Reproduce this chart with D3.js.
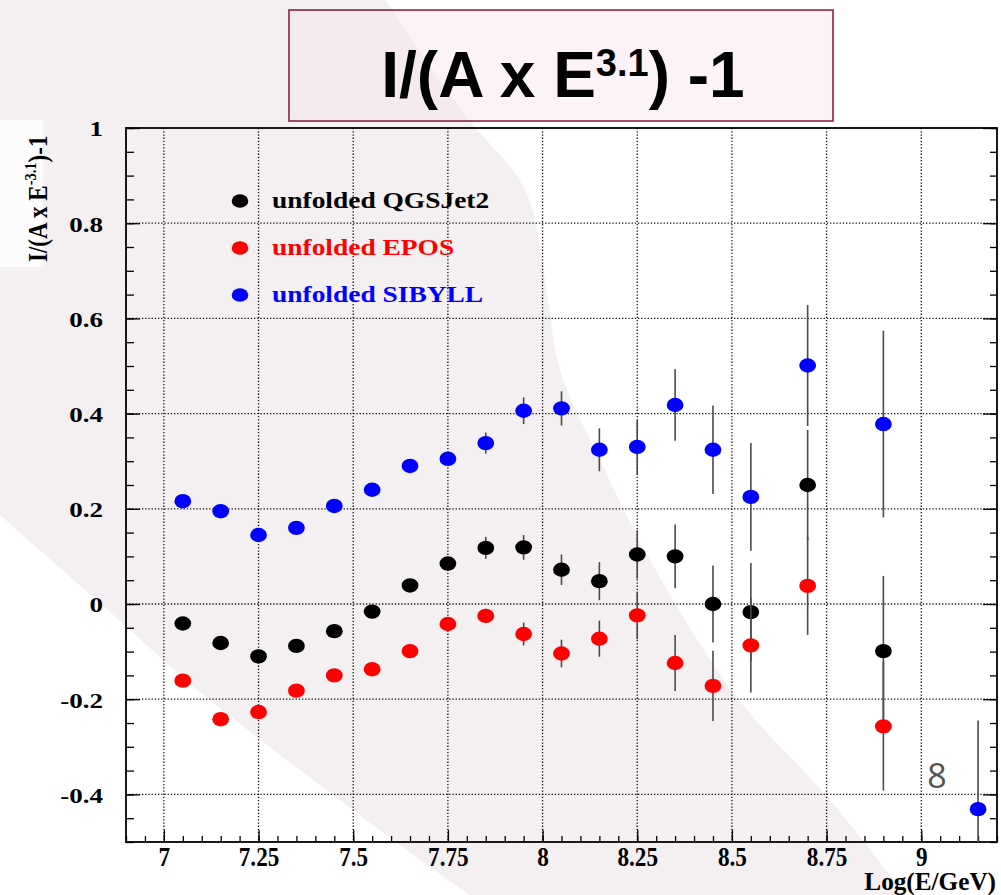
<!DOCTYPE html>
<html>
<head>
<meta charset="utf-8">
<script src="https://cdn.jsdelivr.net/npm/d3@7"></script>
<style>
  html, body { margin: 0; padding: 0; background: #ffffff; }
  svg { display: block; }
</style>
</head>
<body>
<svg id="chart" width="1001" height="895"></svg>
<script>
// Energy bins, log10(E/GeV)
const logE = [7.05, 7.15, 7.25, 7.35, 7.45, 7.55, 7.65, 7.75, 7.85, 7.95,
              8.05, 8.15, 8.25, 8.35, 8.45, 8.55, 8.70, 8.90, 9.15];

// Residuals I/(A x E^-3.1) - 1 and their uncertainties, per hadronic model
const qgsjet2    = [-0.041, -0.082, -0.110, -0.088, -0.057, -0.016, 0.039, 0.085, 0.118, 0.119,
                     0.072, 0.048, 0.104, 0.100, 0.000, -0.017, 0.250, -0.099];
const qgsjet2Err = [0.008, 0.008, 0.008, 0.008, 0.009, 0.010, 0.011, 0.013, 0.023, 0.026,
                    0.032, 0.040, 0.051, 0.067, 0.081, 0.103, 0.116, 0.158];

const epos       = [-0.161, -0.242, -0.227, -0.182, -0.150, -0.137, -0.099, -0.042, -0.025, -0.063,
                    -0.104, -0.073, -0.024, -0.124, -0.172, -0.087, 0.038, -0.257];
const eposErr    = [0.007, 0.007, 0.007, 0.007, 0.008, 0.009, 0.010, 0.012, 0.015, 0.024,
                    0.029, 0.038, 0.050, 0.059, 0.074, 0.099, 0.103, 0.135];

const sibyll     = [0.216, 0.195, 0.145, 0.160, 0.206, 0.240, 0.290, 0.305, 0.338, 0.406,
                    0.411, 0.324, 0.330, 0.418, 0.324, 0.225, 0.501, 0.378, -0.431];
const sibyllErr  = [0.007, 0.007, 0.007, 0.008, 0.008, 0.009, 0.010, 0.012, 0.022, 0.028,
                    0.036, 0.045, 0.057, 0.075, 0.093, 0.113, 0.127, 0.196, 0.186];

const seriesNames  = ["unfolded QGSJet2", "unfolded EPOS", "unfolded SIBYLL"];
const seriesColors = ["#000000", "#ff0000", "#0000ff"];

const xMajorTicks = [7, 7.25, 7.5, 7.75, 8, 8.25, 8.5, 8.75, 9];
const yMajorTicks = [-0.4, -0.2, 0, 0.2, 0.4, 0.6, 0.8, 1];

const W = 1001, H = 895;
const frame = { left: 126, right: 997, top: 128, bottom: 842 };

const svg = d3.select("#chart");

const x = d3.scaleLinear().domain([6.9, 9.2]).range([frame.left, frame.right]);
const y = d3.scaleLinear().domain([-0.5, 1]).range([frame.bottom, frame.top]);

const serif = "'Liberation Serif', 'Times New Roman', serif";
const sans = "'Liberation Sans', Arial, sans-serif";
const fmt = d => String(+d.toFixed(2));

// ---- slide background: white page with a pale sweeping band ----
svg.append("rect").attr("width", W).attr("height", H).attr("fill", "#ffffff");

const edge = d3.line().curve(d3.curveCatmullRom.alpha(0.5));
const upperEdge = [[385, 0], [465, 115], [525, 190], [545, 280], [560, 370], [600, 460],
                   [650, 560], [735, 695], [830, 800], [905, 895]];
const lowerEdge = [[470, 895], [400, 845], [300, 770], [200, 692], [100, 603], [0, 515]];
const bandPath = "M0,0L" + edge(upperEdge).slice(1) + edge(lowerEdge).replace(/^M/, "L") + "Z";
svg.append("path").attr("d", bandPath).attr("fill", "#f4eff0");

// label backing on the left margin
svg.append("rect").attr("x", 0).attr("y", 120).attr("width", 43).attr("height", 147)
  .attr("fill", "#fdfcfc");

// ---- title box ----
svg.append("rect")
  .attr("x", 289).attr("y", 10).attr("width", 544).attr("height", 111)
  .attr("fill", "rgba(245,226,236,0.42)")
  .attr("stroke", "#8c2242").attr("stroke-width", 1.6);

const title = svg.append("text")
  .attr("x", 563).attr("y", 97)
  .attr("text-anchor", "middle")
  .attr("font-family", sans).attr("font-weight", "bold")
  .attr("font-size", 64).attr("fill", "#000");
title.append("tspan").text("I/(A x E");
title.append("tspan").attr("font-size", 38).attr("dy", -21).text("3.1");
title.append("tspan").attr("dy", 21).text(") -1");

// ---- grid ----
const grid = svg.append("g").attr("stroke", "#111").attr("stroke-width", 1.3)
  .attr("stroke-dasharray", "1.3,1.9");
grid.selectAll("line.gx").data(xMajorTicks).join("line").attr("class", "gx")
  .attr("x1", d => x(d)).attr("x2", d => x(d))
  .attr("y1", frame.top).attr("y2", frame.bottom);
grid.selectAll("line.gy").data(yMajorTicks.filter(d => d < 1)).join("line").attr("class", "gy")
  .attr("y1", d => y(d)).attr("y2", d => y(d))
  .attr("x1", frame.left).attr("x2", frame.right);

// ---- axes (ticks point into the frame) ----
const xMinor = d3.range(138, 185).map(i => +(i * 0.05).toFixed(2));
const yMinor = d3.range(-10, 21).map(i => +(i * 0.05).toFixed(2));

function styleAxis(g) {
  g.select(".domain").remove();
  g.selectAll(".tick line").attr("stroke", "#000").attr("stroke-width", 1.3);
}

svg.append("g").attr("transform", `translate(0,${frame.bottom})`)
  .call(d3.axisBottom(x).tickValues(xMinor).tickSize(-6).tickFormat(""))
  .call(styleAxis);

const xAx = svg.append("g").attr("transform", `translate(0,${frame.bottom})`)
  .call(d3.axisBottom(x).tickValues(xMajorTicks).tickSize(-12).tickFormat(fmt))
  .call(styleAxis);
xAx.selectAll(".tick text")
  .attr("y", 24).attr("dy", 0)
  .attr("transform", "scale(0.86,1)")
  .attr("font-family", serif).attr("font-weight", "bold")
  .attr("font-size", 27).attr("fill", "#000");

svg.append("g").attr("transform", `translate(${frame.left},0)`)
  .call(d3.axisLeft(y).tickValues(yMinor).tickSize(-8).tickFormat(""))
  .call(styleAxis);

const yAx = svg.append("g").attr("transform", `translate(${frame.left},0)`)
  .call(d3.axisLeft(y).tickValues(yMajorTicks).tickSize(-14).tickFormat(fmt))
  .call(styleAxis);
yAx.selectAll(".tick text")
  .attr("x", 0).attr("dy", "0.36em")
  .attr("transform", "translate(-23,0) scale(1.23,1)")
  .attr("text-anchor", "end")
  .attr("font-family", serif).attr("font-weight", "bold")
  .attr("font-size", 22).attr("fill", "#000");

svg.append("g").attr("transform", `translate(${frame.right},0)`)
  .call(d3.axisRight(y).tickValues(yMinor).tickSize(-7).tickFormat(""))
  .call(styleAxis);
svg.append("g").attr("transform", `translate(${frame.right},0)`)
  .call(d3.axisRight(y).tickValues(yMajorTicks).tickSize(-14).tickFormat(""))
  .call(styleAxis);

// frame
svg.append("rect")
  .attr("x", frame.left).attr("y", frame.top)
  .attr("width", frame.right - frame.left).attr("height", frame.bottom - frame.top)
  .attr("fill", "none").attr("stroke", "#000").attr("stroke-width", 1.8);

// axis titles
svg.append("text")
  .attr("x", 0).attr("y", 0)
  .attr("text-anchor", "end")
  .attr("font-family", serif).attr("font-weight", "bold")
  .attr("font-size", 26).attr("fill", "#000")
  .attr("transform", "translate(996,890) scale(0.97,1)")
  .text("Log(E/GeV)");

const yTitle = svg.append("text")
  .attr("transform", "translate(47,262) rotate(-90) scale(1,1.2)")
  .attr("font-family", serif).attr("font-weight", "bold")
  .attr("font-size", 23).attr("fill", "#000");
yTitle.append("tspan").text("I/(A x E");
yTitle.append("tspan").attr("font-size", 14.5).attr("dy", -9).text("-3.1");
yTitle.append("tspan").attr("dy", 9).text(")-1");

// ---- data ----
svg.append("clipPath").attr("id", "plotClip")
  .append("rect")
  .attr("x", frame.left).attr("y", frame.top)
  .attr("width", frame.right - frame.left).attr("height", frame.bottom - frame.top);

const series = [
  { values: qgsjet2, errors: qgsjet2Err, color: seriesColors[0] },
  { values: epos,    errors: eposErr,    color: seriesColors[1] },
  { values: sibyll,  errors: sibyllErr,  color: seriesColors[2] }
];

const plot = svg.append("g").attr("clip-path", "url(#plotClip)");
series.forEach(s => {
  const pts = s.values.map((v, i) => ({ e: logE[i], v, err: s.errors[i] }));
  const g = plot.append("g");
  g.selectAll("line").data(pts).join("line")
    .attr("x1", d => x(d.e)).attr("x2", d => x(d.e))
    .attr("y1", d => y(d.v - d.err)).attr("y2", d => y(d.v + d.err))
    .attr("stroke", "#4a4a4a").attr("stroke-width", 1.6);
  g.selectAll("ellipse").data(pts).join("ellipse")
    .attr("cx", d => x(d.e)).attr("cy", d => y(d.v))
    .attr("rx", 8.4).attr("ry", 7.2)
    .attr("fill", s.color);
});

// ---- legend ----
const legend = svg.append("g");
seriesNames.forEach((name, i) => {
  const cy = 201 + i * 47;
  legend.append("ellipse").attr("cx", 240).attr("cy", cy)
    .attr("rx", 8.3).attr("ry", 6.8).attr("fill", seriesColors[i]);
  legend.append("text")
    .attr("x", 0).attr("y", 0)
    .attr("transform", `translate(272,${cy + 7}) scale(1.22,1)`)
    .attr("font-family", serif).attr("font-weight", "bold")
    .attr("font-size", 22.5).attr("fill", seriesColors[i])
    .text(name);
});

// slide page number
svg.append("text")
  .attr("x", 937).attr("y", 788)
  .attr("text-anchor", "middle")
  .attr("font-family", "'Open Sans', 'Noto Sans', sans-serif")
  .attr("font-size", 34).attr("fill", "#555555")
  .text("8");
</script>
</body>
</html>
